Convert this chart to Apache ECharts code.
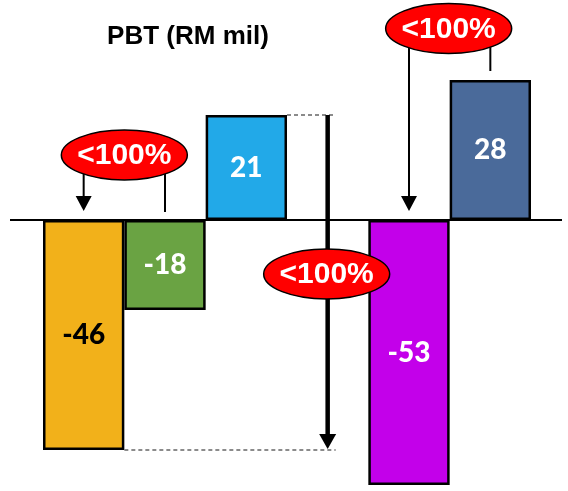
<!DOCTYPE html>
<html>
<head>
<meta charset="utf-8">
<script src="https://cdn.jsdelivr.net/npm/echarts@6/dist/echarts.min.js"></script>
<style>
  html, body { margin: 0; padding: 0; background: #fff; }
  #chart { width: 568px; height: 491px; }
</style>
</head>
<body>
<div id="chart"></div>
<script>
// Profit before tax, RM million, per period (one empty slot separates the two groups)
const periods = ['P1', 'P2', 'P3', '', 'P4', 'P5'];
const pbt = [-46, -18, 21, '-', -53, 28];
const changeLabel = '<100%';

// Bar fill colours and label colours, in period order
const barColors = ['#F2B11A', '#6AA343', '#22A9E8', '#fff', '#C300EA', '#4A6A9A'];
const labelColors = ['#000', '#fff', '#fff', '#fff', '#fff', '#fff'];

const chart = echarts.init(document.getElementById('chart'), null, { renderer: 'canvas' });

const option = {
  animation: false,
  backgroundColor: '#fff',
  title: {
    text: 'PBT (RM mil)',
    left: 183,
    top: 19,
    textAlign: 'center',
    textStyle: { fontFamily: 'Liberation Sans', fontWeight: 'bold', fontSize: 26, color: '#000' }
  },
  grid: { left: 43, right: 37, top: 0, height: 490, containLabel: false },
  xAxis: {
    type: 'category',
    data: periods,
    axisLine: { show: false },
    axisTick: { show: false },
    axisLabel: { show: false },
    splitLine: { show: false }
  },
  yAxis: {
    type: 'value',
    min: -54,
    max: 44,
    show: false,
    splitLine: { show: false }
  },
  series: [{
    type: 'bar',
    barWidth: '100%',
    barCategoryGap: 0,
    data: pbt.map((v, i) => ({
      value: v,
      itemStyle: { color: barColors[i], borderColor: '#000', borderWidth: 2.5 },
      label: { color: labelColors[i] }
    })),
    label: {
      show: true,
      position: 'inside',
      fontFamily: 'Lato',
      fontWeight: 900,
      fontSize: 28
    }
  }]
};
chart.setOption(option);

// Annotations placed through the axis scales
function px(cat, val) { return chart.convertToPixel({ gridIndex: 0 }, [cat, val]); }
const slot = px(1, 0)[0] - px(0, 0)[0];
const cx = i => px(i, 0)[0];
const cy = v => px(0, v)[1];

function arrowDown(x, y1, y2, w, headW, headH) {
  return [
    { type: 'line', shape: { x1: x, y1: y1, x2: x, y2: y2 - headH + 1 }, style: { stroke: '#000', lineWidth: w }, z: 10 },
    { type: 'polygon', shape: { points: [[x - headW / 2, y2 - headH], [x + headW / 2, y2 - headH], [x, y2]] }, style: { fill: '#000' }, z: 10 }
  ];
}
function bubble(x, y) {
  return [
    { type: 'ellipse', shape: { cx: x, cy: y, rx: 63, ry: 25 }, style: { fill: '#FF0000', stroke: '#000', lineWidth: 1.5 }, z: 20 },
    { type: 'text', x: x, y: y + 1, style: { text: changeLabel, fill: '#fff', font: 'bold 30px "Liberation Sans"', align: 'center', verticalAlign: 'middle' }, z: 21 }
  ];
}

const y0 = cy(0);
const W = chart.getWidth();
const midX = cx(3);
const elements = [
  // zero baseline across the plot
  { type: 'line', shape: { x1: 10, y1: y0, x2: W - 6, y2: y0 }, style: { stroke: '#000', lineWidth: 2 }, z: 5 },
  // dashed guides from the P3 top and P1 bottom to the drop arrow
  { type: 'line', shape: { x1: cx(2) + slot / 2, y1: cy(pbt[2]), x2: midX + 8, y2: cy(pbt[2]) }, style: { stroke: '#666', lineWidth: 1.5, lineDash: [4, 3] }, z: 6 },
  { type: 'line', shape: { x1: cx(0) + slot / 2, y1: cy(pbt[0]), x2: midX + 8, y2: cy(pbt[0]) }, style: { stroke: '#666', lineWidth: 1.5, lineDash: [4, 3] }, z: 6 },
  // P1 -> P2 change
  ...arrowDown(cx(0), cy(13), cy(1.8), 2, 16, 15),
  { type: 'line', shape: { x1: cx(1), y1: cy(13), x2: cx(1), y2: cy(1.6) }, style: { stroke: '#000', lineWidth: 2 }, z: 10 },
  ...bubble((cx(0) + cx(1)) / 2, cy(13)),
  // P3 -> P1 drop
  ...arrowDown(midX, cy(pbt[2]), cy(pbt[0]) - 1, 4.5, 17, 15),
  ...bubble(midX - 1, cy(-10.8)),
  // P4 -> P5 change
  ...arrowDown(cx(4), cy(38), cy(1.8), 2, 16, 15),
  { type: 'line', shape: { x1: cx(5), y1: cy(38), x2: cx(5), y2: cy(pbt[5] + 1.8) }, style: { stroke: '#000', lineWidth: 2 }, z: 10 },
  ...bubble((cx(4) + cx(5)) / 2 - 1, cy(38.3))
];
chart.setOption({ graphic: { elements: elements } });
</script>
</body>
</html>
